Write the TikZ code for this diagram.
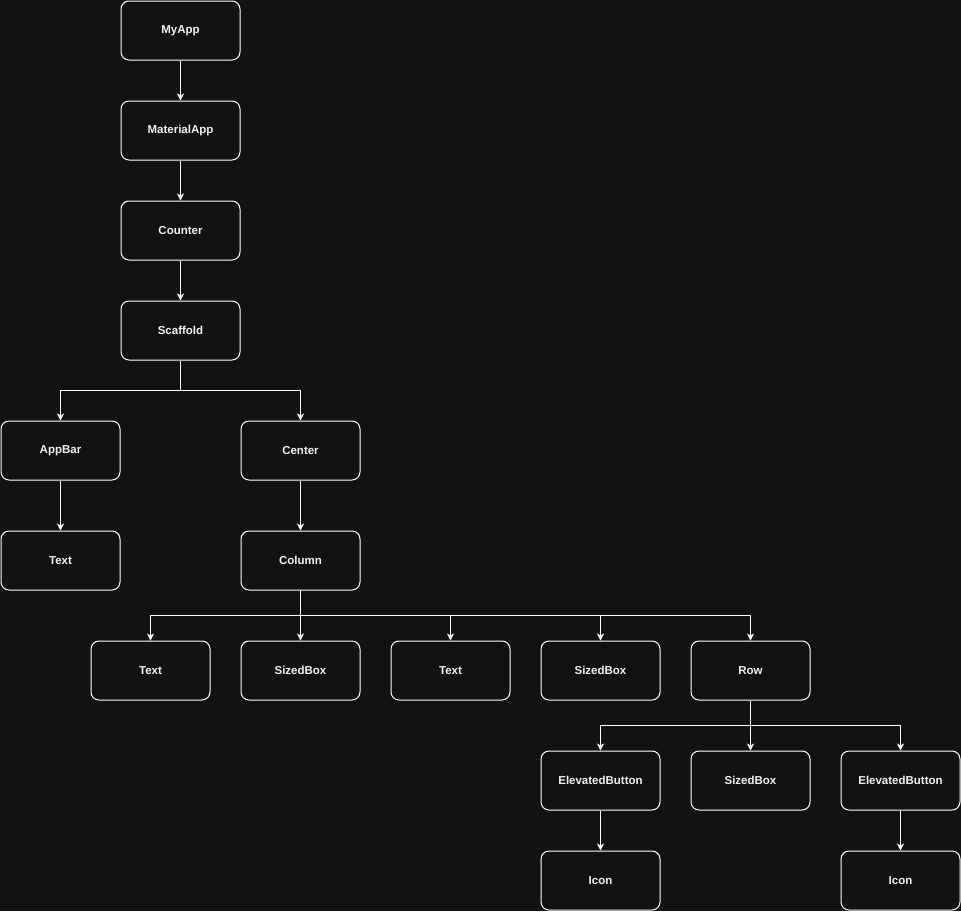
\documentclass[tikz,border=0pt]{standalone}
\usepackage{fontspec}
\setmainfont{Liberation Sans}
\usetikzlibrary{arrows.meta}
\definecolor{bg}{HTML}{121212}
\definecolor{fg}{HTML}{F0F0F0}
\begin{document}
\begin{tikzpicture}[x=1pt,y=-1pt,
  widget/.style={draw=white, line width=1pt, rounded corners=8pt, fill=bg,
    minimum width=119pt, minimum height=59pt, inner sep=0pt,
    text=fg, font=\fontsize{11.5}{14}\selectfont\bfseries},
  link/.style={draw=white, line width=1pt,
    -{Stealth[length=7pt,width=7pt,inset=2pt]}}]
  \fill[bg] (0,0) rectangle (961,911);
  \useasboundingbox (0,0) rectangle (961,911);

  % widget tree
  \node[widget] (myapp)    at (180.5,30.5)  {MyApp};
  \node[widget] (material) at (180.5,130.5) {MaterialApp};
  \node[widget] (counter)  at (180.5,230.5) {Counter};
  \node[widget] (scaffold) at (180.5,330.5) {Scaffold};
  \node[widget] (appbar)   at (60.5,450.5)  {AppBar};
  \node[widget] (center)   at (300.5,450.5) {Center};
  \node[widget] (titletxt) at (60.5,560.5)  {Text};
  \node[widget] (column)   at (300.5,560.5) {Column};
  \node[widget] (text1)    at (150.5,670.5) {Text};
  \node[widget] (box1)     at (300.5,670.5) {SizedBox};
  \node[widget] (text2)    at (450.5,670.5) {Text};
  \node[widget] (box2)     at (600.5,670.5) {SizedBox};
  \node[widget] (row)      at (750.5,670.5) {Row};
  \node[widget] (btn1)     at (600.5,780.5) {ElevatedButton};
  \node[widget] (box3)     at (750.5,780.5) {SizedBox};
  \node[widget] (btn2)     at (900.5,780.5) {ElevatedButton};
  \node[widget] (icon1)    at (600.5,880.5) {Icon};
  \node[widget] (icon2)    at (900.5,880.5) {Icon};

  % straight links
  \draw[link] (myapp) -- (material);
  \draw[link] (material) -- (counter);
  \draw[link] (counter) -- (scaffold);
  \draw[link] (appbar) -- (titletxt);
  \draw[link] (center) -- (column);
  \draw[link] (btn1) -- (icon1);
  \draw[link] (btn2) -- (icon2);

  % elbow links: drop to a shared bus line, then down into each child
  \draw[link] (scaffold.south) |- ([yshift=30pt]appbar.north) -- (appbar.north);
  \draw[link] (scaffold.south) |- ([yshift=30pt]center.north) -- (center.north);
  \foreach \t in {text1,box1,text2,box2,row}
    \draw[link] (column.south) |- ([yshift=25pt]\t.north) -- (\t.north);
  \foreach \t in {btn1,box3,btn2}
    \draw[link] (row.south) |- ([yshift=25pt]\t.north) -- (\t.north);
\end{tikzpicture}
\end{document}
